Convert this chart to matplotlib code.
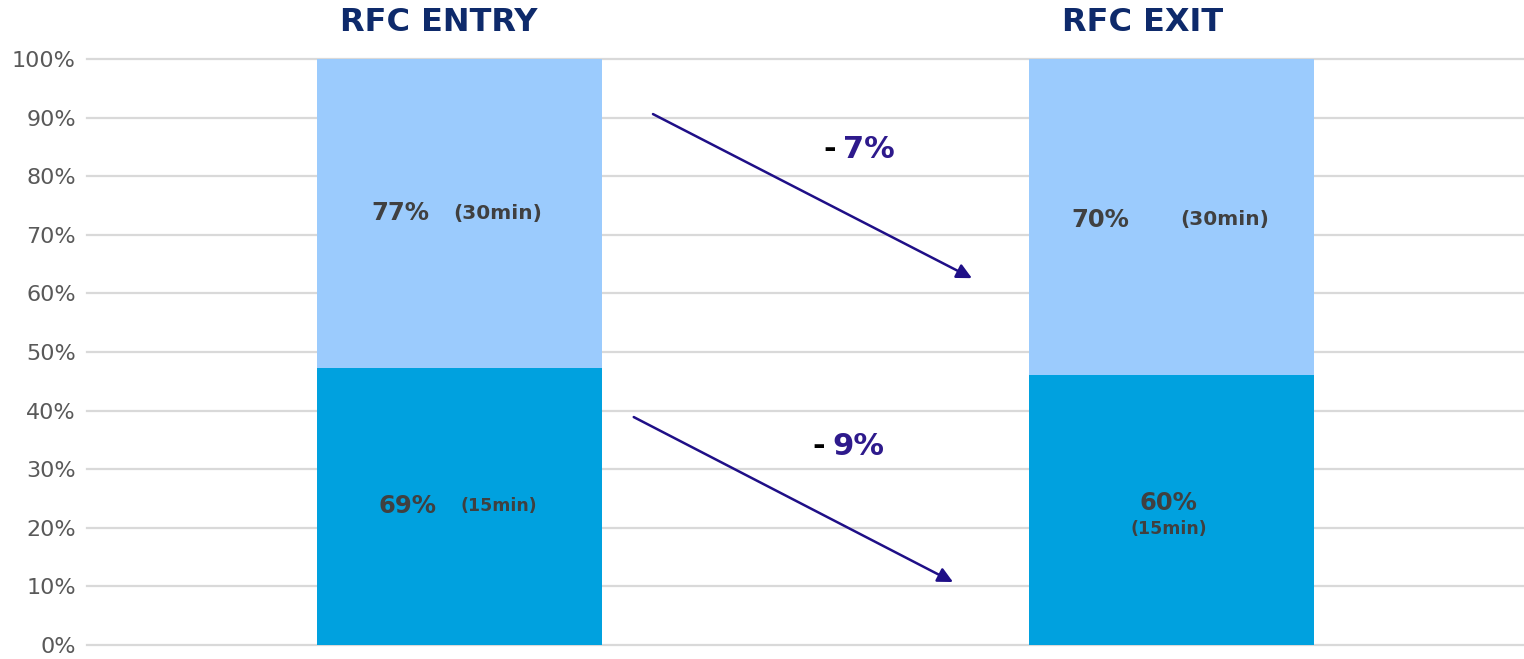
import matplotlib.pyplot as plt

categories = ["RFC ENTRY", "RFC EXIT"]
share_15min = [47.3, 46.1]
share_30min = [52.7, 53.9]
pct_15 = ["69%", "60%"]
pct_30 = ["77%", "70%"]
changes = ["7%", "9%"]

light = "#9BCBFD"
dark = "#00A1DF"
label_col = "#404040"
navy = "#0E2A6B"
arrow_col = "#1F0F87"

plt.rcParams['font.family'] = ['DejaVu Sans']

fig = plt.figure(figsize=(15.24, 6.59), dpi=100)
ax = fig.add_axes([0.0571, 0.0212, 0.9429, 0.8893])

x = [0, 1]
ax.bar(x, share_15min, width=0.4, color=dark, zorder=2)
ax.bar(x, share_30min, width=0.4, bottom=share_15min, color=light, zorder=2)

ax.set_xlim(-0.522, 1.494)
ax.set_ylim(0, 100)
ax.set_yticks(range(0, 101, 10))
ax.set_yticklabels([f"{v}%" for v in range(0, 101, 10)], fontsize=16, color="#595959")
ax.set_xticks([])
ax.tick_params(axis='y', length=0, pad=8)
ax.grid(axis='y', color="#D9D9D9", linewidth=1.6, zorder=0)
for gl in ax.get_ygridlines():
    gl.set_clip_on(False)
for s in ax.spines.values():
    s.set_visible(False)

# column titles above the plot
title_dx = [-0.029, -0.041]
for i, name in enumerate(categories):
    ax.text(x[i] + title_dx[i], 104.7, name, ha='center', va='baseline', fontsize=23,
            fontweight='bold', color=navy, clip_on=False)

# labels in the segments
mid30 = [b + t / 2 for b, t in zip(share_15min, share_30min)]
mid15 = [b / 2 for b in share_15min]

ax.text(x[0] - 0.083, mid30[0], pct_30[0], ha='center', va='center', fontsize=17.5,
        fontweight='bold', color=label_col, zorder=3)
ax.text(x[0] + 0.054, mid30[0], "(30min)", ha='center', va='center', fontsize=14.5,
        fontweight='bold', color=label_col, zorder=3)
ax.text(x[0] - 0.073, mid15[0], pct_15[0], ha='center', va='center', fontsize=17.5,
        fontweight='bold', color=label_col, zorder=3)
ax.text(x[0] + 0.056, mid15[0], "(15min)", ha='center', va='center', fontsize=12.5,
        fontweight='bold', color=label_col, zorder=3)

ax.text(x[1] - 0.1, mid30[1] - 0.5, pct_30[1], ha='center', va='center', fontsize=17.5,
        fontweight='bold', color=label_col, zorder=3)
ax.text(x[1] + 0.074, mid30[1] - 0.5, "(30min)", ha='center', va='center', fontsize=14.5,
        fontweight='bold', color=label_col, zorder=3)
ax.text(x[1] - 0.005, mid15[1] + 1.2, pct_15[1], ha='center', va='center', fontsize=17.5,
        fontweight='bold', color=label_col, zorder=3)
ax.text(x[1] - 0.005, mid15[1] - 3.3, "(15min)", ha='center', va='center', fontsize=12.5,
        fontweight='bold', color=label_col, zorder=3)

# change arrows
arrows = [((0.272, 90.6), (0.7195, 62.6)), ((0.245, 38.9), (0.693, 10.75))]
change_pos = [(0.569, 84.5), (0.554, 33.8)]
for (start, end), (cx, cy), ch in zip(arrows, change_pos, changes):
    ax.annotate("", xy=end, xytext=start,
                arrowprops=dict(arrowstyle="-|>,head_length=0.9,head_width=0.45",
                                color=arrow_col, lw=1.8, shrinkA=0, shrinkB=0),
                zorder=4)
    ax.text(cx - 0.04, cy, "-", ha='right', va='center', fontsize=22,
            fontweight='bold', color="black")
    ax.text(cx - 0.03, cy, ch, ha='left', va='center', fontsize=22,
            fontweight='bold', color="#2E1A8C")

fig.savefig("out.png", dpi=100)
